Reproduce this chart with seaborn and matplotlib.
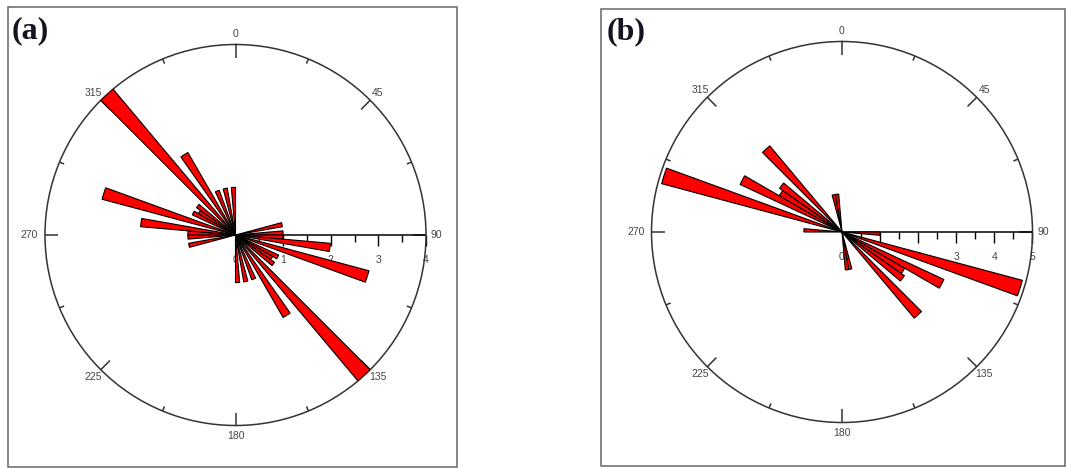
import numpy as np
import matplotlib
matplotlib.use("Agg")
import matplotlib.pyplot as plt
from matplotlib.patches import Rectangle
import seaborn as sns

# Rose-diagram petals: azimuth of each petal centre (deg, 0-180 half),
# mirrored onto the opposite half because strikes are bidirectional.
azimuth_a = [77.5, 87.5, 92.5, 97.5, 107.5, 117.5, 122.5, 127.5, 137.5, 147.5, 157.5, 167.5, 177.5]
count_a = [1.0, 1.0, 1.0, 2.0, 2.9, 1.0, 0.9, 1.0, 4.0, 2.0, 1.0, 1.0, 1.0]

azimuth_b = [92.5, 107.5, 117.5, 122.5, 127.5, 137.5, 167.5, 172.5]
count_b = [1.0, 4.9, 2.95, 1.9, 2.0, 2.95, 1.0, 1.0]

radial_max = [4, 5]
bin_width_deg = 5
compass_labels = ["0", "45", "90", "135", "180", "225", "270", "315"]
panel_tags = ["(a)", "(b)"]

sns.set_theme(style="white")
plt.rcParams["font.family"] = ["Liberation Sans", "DejaVu Sans"]

W, H = 1068, 468
fig = plt.figure(figsize=(W / 100, H / 100), dpi=100)
fig.patch.set_facecolor("white")


def fig_rect(x0, y0, x1, y1):
    return [x0 / W, 1 - y1 / H, (x1 - x0) / W, (y1 - y0) / H]


# panel frames (pixel coordinates) and rose centres
frames = [(8, 7, 457, 467), (601, 9, 1065, 466)]
centres = [(235.5, 235.0), (842.0, 232.0)]
R = 190.5
tag_pos = [(12, 31), (607, 32)]
label_color = "#444444"

for k, (az, cnt) in enumerate([(azimuth_a, count_a), (azimuth_b, count_b)]):
    rmax = radial_max[k]
    fx0, fy0, fx1, fy1 = frames[k]
    fig.add_artist(Rectangle((fx0 / W, 1 - fy1 / H), (fx1 - fx0) / W, (fy1 - fy0) / H,
                             transform=fig.transFigure, fill=False,
                             edgecolor="#666666", linewidth=1.1))
    fig.text(tag_pos[k][0] / W, 1 - tag_pos[k][1] / H, panel_tags[k],
             fontfamily="Liberation Serif", fontweight="bold", fontsize=23,
             color="#141420", ha="left", va="center")

    cx, cy = centres[k]
    ax = fig.add_axes(fig_rect(cx - R, cy - R, cx + R, cy + R), projection="polar")
    ax.set_theta_zero_location("N")
    ax.set_theta_direction(-1)
    ax.set_ylim(0, rmax)
    ax.grid(False)
    ax.set_xticks([])
    ax.set_yticks([])
    ax.spines["polar"].set_color("#333333")
    ax.spines["polar"].set_linewidth(1.1)

    az = np.asarray(az)
    cnt = np.asarray(cnt)
    theta = np.deg2rad(np.concatenate([az, az + 180]))
    length = np.concatenate([cnt, cnt])
    ax.bar(theta, length, width=np.deg2rad(bin_width_deg), bottom=0,
           color="#ff0000", edgecolor="black", linewidth=0.8, zorder=3)

    # compass ticks on the outer circle (every 22.5 deg, inward)
    px = rmax / R
    for ang in np.arange(0, 360, 22.5):
        tl = 13 if ang % 45 == 0 else 5
        th = np.deg2rad(ang)
        ax.plot([th, th], [rmax - tl * px, rmax], color="#333333", lw=1.1,
                solid_capstyle="butt", clip_on=False, zorder=2)

    # compass labels
    for ang, lab in zip(range(0, 360, 45), compass_labels):
        rr = rmax * (206 if lab == "270" else 201) / R
        ax.text(np.deg2rad(ang), rr, lab, ha="center", va="center",
                fontsize=7.5, color=label_color, clip_on=False)

    # radial scale along the 90 deg azimuth
    ax.plot([np.pi / 2, np.pi / 2], [0, rmax], color="black", lw=1.1, zorder=2)
    for v in np.arange(0.5, rmax + 0.01, 0.5):
        major = abs(v - round(v)) < 1e-6
        ax.plot(np.pi / 2, v, marker=3, markersize=(11 if major else 7) * 0.72,
                markeredgewidth=1.0, color="black", clip_on=False, zorder=2)
    for v in range(0, rmax + 1):
        ax.annotate(str(v), xy=(np.pi / 2, v), xytext=(0, -25 * 0.72),
                    textcoords="offset points", ha="center", va="center",
                    fontsize=7.5, color=label_color, zorder=1,
                    annotation_clip=False)

fig.savefig("out.png", dpi=100, facecolor="white")
